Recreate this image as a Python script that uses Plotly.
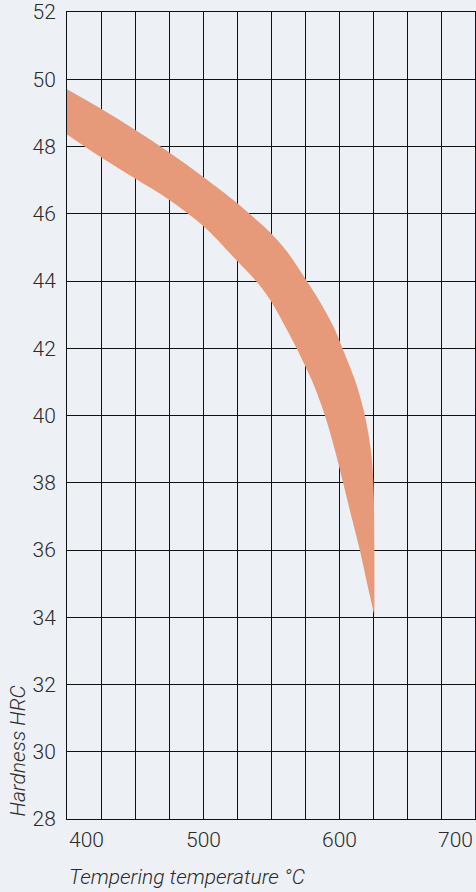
import plotly.graph_objects as go

# Upper boundary of the hardness band (tempering temperature °C, HRC)
upper_temp = [400, 425, 450, 475, 500, 525, 537, 550, 562, 575, 586, 597, 602, 608, 613, 619, 623.4, 625.3, 626, 626]
upper_hrc = [49.70, 49.12, 48.50, 47.83, 47.10, 46.32, 45.90, 45.42, 44.86, 44.08, 43.38, 42.55, 42.05, 41.45, 40.90, 40.0, 38.97, 38.0, 36.0, 34.05]

# Lower boundary of the band
lower_temp = [400, 425, 450, 475, 500, 525, 539, 549.2, 561.7, 568.8, 581, 589.6, 597, 603, 609.2, 615.3, 620.7, 626]
lower_hrc = [48.36, 47.68, 47.05, 46.42, 45.64, 44.60, 44.0, 43.45, 42.55, 42.0, 40.95, 40.0, 38.97, 38.0, 36.98, 36.0, 35.0, 34.05]

x_ticks = [400, 500, 600, 700]
x_tick_labels = ["400", "500", "600", "700"]
y_ticks = list(range(28, 53, 2))

x_title = "Tempering temperature °C"
y_title = "Hardness HRC"

BG = "#edf1f5"
BAND = "#e69a7a"
FONT = "Roboto"
TXT = "#2b2b2b"
TICK_SIZE = 21
TITLE_SIZE = 21

fig = go.Figure()
fig.add_trace(go.Scatter(
    x=lower_temp, y=lower_hrc, mode="lines",
    line=dict(width=0, color=BAND, shape="spline", smoothing=1.0),
    hoverinfo="skip", showlegend=False,
))
fig.add_trace(go.Scatter(
    x=upper_temp, y=upper_hrc, mode="lines", fill="tonexty",
    fillcolor=BAND, line=dict(width=0, color=BAND, shape="spline", smoothing=1.0),
    hoverinfo="skip", showlegend=False,
))

fig.update_layout(
    width=476, height=892,
    margin=dict(l=67, r=1, t=12, b=73),
    paper_bgcolor=BG, plot_bgcolor=BG,
    font=dict(family=FONT, size=TICK_SIZE, color=TXT, weight=300),
    showlegend=False,
)

fig.update_xaxes(
    range=[400, 700], dtick=25, tick0=400,
    showgrid=True, gridcolor="#111111", gridwidth=1,
    showticklabels=False, ticks="",
    showline=True, linecolor="#111111", linewidth=1, mirror=True,
    zeroline=False, layer="above traces",
)
fig.update_yaxes(
    range=[28, 52], tickvals=y_ticks,
    showgrid=True, gridcolor="#111111", gridwidth=1,
    ticks="", ticklabelstandoff=6,
    tickfont=dict(family=FONT, size=TICK_SIZE, color=TXT, weight=300),
    showline=True, linecolor="#111111", linewidth=1, mirror=True,
    zeroline=False, layer="above traces",
)

anchors = {0: "left", len(x_ticks) - 1: "right"}
for i, (v, lab) in enumerate(zip(x_ticks, x_tick_labels)):
    fig.add_annotation(
        x=v, xref="x", y=0, yref="paper", text=lab, showarrow=False,
        xanchor=anchors.get(i, "center"), yanchor="middle", yshift=-21,
        font=dict(family=FONT, size=TICK_SIZE, color=TXT, weight=300),
    )

fig.add_annotation(
    x=0, xref="paper", y=0, yref="paper", text=x_title, showarrow=False,
    xanchor="left", yanchor="middle", yshift=-58,
    font=dict(family=FONT, size=TITLE_SIZE, color=TXT, style="italic", weight=300),
)
fig.add_annotation(
    x=0, xref="paper", y=0, yref="paper", text=y_title, showarrow=False,
    textangle=-90, xanchor="center", yanchor="bottom", xshift=-50,
    font=dict(family=FONT, size=TITLE_SIZE, color=TXT, style="italic", weight=300),
)

fig.write_html(
    "out.html",
    config={"displayModeBar": False},
    post_script="document.body.style.margin='0';document.body.style.overflow='hidden';",
)
